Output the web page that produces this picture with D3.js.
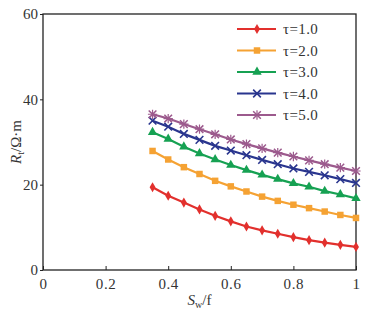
<!DOCTYPE html>
<html>
<head>
<meta charset="utf-8">
<script src="https://cdn.jsdelivr.net/npm/d3@7"></script>
<style>
  body { margin: 0; background: #fff; }
  text { font-family: "Liberation Serif", "DejaVu Serif", serif; }
</style>
</head>
<body>
<div id="chart"></div>
<script>
// Water saturation values (x)
const sw = [0.35, 0.40, 0.45, 0.50, 0.55, 0.60, 0.65, 0.70, 0.75, 0.80, 0.85, 0.90, 0.95, 1.00];

// Resistivity for each tortuosity
const tau1 = [19.4, 17.4, 15.8, 14.2, 12.7, 11.4, 10.2, 9.3, 8.5, 7.7, 7.0, 6.4, 5.9, 5.4];
const tau2 = [27.9, 25.9, 24.1, 22.5, 20.9, 19.6, 18.4, 17.2, 16.2, 15.3, 14.5, 13.7, 12.9, 12.2];
const tau3 = [32.3, 30.7, 28.9, 27.3, 25.9, 24.6, 23.4, 22.3, 21.3, 20.3, 19.5, 18.5, 17.7, 16.8];
const tau4 = [35.0, 33.6, 31.9, 30.5, 29.1, 28.0, 26.9, 25.8, 24.8, 23.8, 23.0, 22.2, 21.3, 20.4];
const tau5 = [36.5, 35.5, 34.2, 33.0, 31.8, 30.6, 29.5, 28.5, 27.5, 26.6, 25.7, 24.8, 24.0, 23.2];

const seriesNames = ["τ=1.0", "τ=2.0", "τ=3.0", "τ=4.0", "τ=5.0"];
const xTicks = [0, 0.2, 0.4, 0.6, 0.8, 1];
const yTicks = [0, 20, 40, 60];

const series = [
    { name: seriesNames[0], values: tau1, color: "#e2302d", marker: "diamond" },
    { name: seriesNames[1], values: tau2, color: "#f5a233", marker: "square" },
    { name: seriesNames[2], values: tau3, color: "#16a152", marker: "triangle" },
    { name: seriesNames[3], values: tau4, color: "#29358e", marker: "cross" },
    { name: seriesNames[4], values: tau5, color: "#9c5a8d", marker: "star" }
];

const W = 368, H = 314;
const margin = { top: 14, right: 12, bottom: 44, left: 43 };
const width = W - margin.left - margin.right;
const height = H - margin.top - margin.bottom;

const svg = d3.select("#chart").append("svg")
    .attr("width", W)
    .attr("height", H)
    .append("g")
    .attr("transform", `translate(${margin.left}, ${margin.top})`);

const x = d3.scaleLinear().domain([0, 1]).range([0, width]);
const y = d3.scaleLinear().domain([0, 60]).range([height, 0]);

// Frame
svg.append("rect")
    .attr("width", width)
    .attr("height", height)
    .attr("fill", "none")
    .attr("stroke", "#222")
    .attr("stroke-width", 1.3);

// X axis, ticks pointing inward
const xAxis = svg.append("g")
    .attr("transform", `translate(0, ${height})`)
    .call(d3.axisBottom(x).tickValues(xTicks).tickSize(-4).tickPadding(8)
        .tickFormat(d => d === 0 || d === 1 ? d : d.toFixed(1)));
xAxis.select(".domain").remove();
xAxis.selectAll(".tick line").attr("stroke", "#222");
xAxis.selectAll("text").style("font-size", "15px").style("letter-spacing", "0.6px").attr("fill", "#333");

// Y axis, ticks pointing outward
const yAxis = svg.append("g")
    .call(d3.axisLeft(y).tickValues(yTicks).tickSize(3).tickPadding(2));
yAxis.select(".domain").remove();
yAxis.selectAll(".tick line").attr("stroke", "#222");
yAxis.selectAll("text").style("font-size", "15px").attr("fill", "#333");

// Axis titles
const xTitle = svg.append("text")
    .attr("x", x(0.5))
    .attr("y", height + 35)
    .attr("text-anchor", "middle")
    .style("font-size", "15px")
    .attr("fill", "#333");
xTitle.append("tspan").style("font-style", "italic").text("S");
xTitle.append("tspan").attr("dy", 3).style("font-size", "10px").text("w");
xTitle.append("tspan").attr("dy", -3).text("/f");

const yTitle = svg.append("text")
    .attr("transform", `translate(-22, ${y(30)}) rotate(-90)`)
    .attr("text-anchor", "middle")
    .style("font-size", "15px")
    .attr("fill", "#333");
yTitle.append("tspan").style("font-style", "italic").text("R");
yTitle.append("tspan").attr("dy", 3).style("font-size", "10px").text("t");
yTitle.append("tspan").attr("dy", -3).text("/Ω·m");

// Marker drawing
function drawMarker(g, type, cx, cy, color) {
    if (type === "diamond") {
        g.append("path").attr("d", d3.symbol(d3.symbolDiamond, 30)())
            .attr("transform", `translate(${cx},${cy})`).attr("fill", color);
    } else if (type === "square") {
        g.append("path").attr("d", d3.symbol(d3.symbolSquare, 42)())
            .attr("transform", `translate(${cx},${cy})`).attr("fill", color);
    } else if (type === "triangle") {
        g.append("path").attr("d", d3.symbol(d3.symbolTriangle, 38)())
            .attr("transform", `translate(${cx},${cy})`).attr("fill", color);
    } else if (type === "cross") {
        g.append("path").attr("d", d3.symbol(d3.symbolTimes, 40)())
            .attr("transform", `translate(${cx},${cy})`)
            .attr("fill", "none").attr("stroke", color).attr("stroke-width", 1.6);
    } else if (type === "star") {
        g.append("path").attr("d", d3.symbol(d3.symbolTimes, 40)())
            .attr("transform", `translate(${cx},${cy})`)
            .attr("fill", "none").attr("stroke", color).attr("stroke-width", 1.5);
        g.append("path").attr("d", d3.symbol(d3.symbolPlus, 30)())
            .attr("transform", `translate(${cx},${cy})`)
            .attr("fill", "none").attr("stroke", color).attr("stroke-width", 1.2);
    }
}

const line = d3.line()
    .x((d, i) => x(sw[i]))
    .y(d => y(d));

series.forEach(s => {
    svg.append("path")
        .datum(s.values)
        .attr("fill", "none")
        .attr("stroke", s.color)
        .attr("stroke-width", 2.2)
        .attr("d", line);
    const mg = svg.append("g");
    s.values.forEach((v, i) => drawMarker(mg, s.marker, x(sw[i]), y(v), s.color));
});

// Legend
const legend = svg.append("g").attr("transform", `translate(${237 - margin.left}, ${29 - margin.top})`);
series.forEach((s, i) => {
    const row = legend.append("g").attr("transform", `translate(0, ${i * 21.5})`);
    row.append("line")
        .attr("x1", 0).attr("x2", 39)
        .attr("y1", 0).attr("y2", 0)
        .attr("stroke", s.color)
        .attr("stroke-width", 2.2);
    drawMarker(row, s.marker, 20, 0, s.color);
    row.append("text")
        .attr("x", 46)
        .attr("y", 5)
        .style("font-size", "15px")
        .style("letter-spacing", "0.4px")
        .attr("fill", "#333")
        .text(s.name);
});
</script>
</body>
</html>
